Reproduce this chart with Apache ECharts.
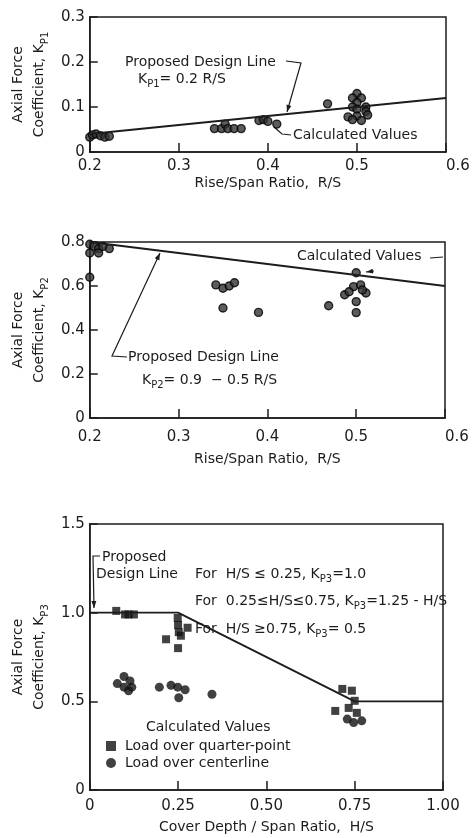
<!DOCTYPE html>
<html>
<head>
<meta charset="utf-8">
<script src="https://cdn.jsdelivr.net/npm/echarts@6/dist/echarts.min.js"></script>
<style>
html, body { margin: 0; padding: 0; background: #fff; }
#chart { width: 476px; height: 838px; }
</style>
</head>
<body>
<div id="chart"></div>
<script>
// panel 1 - K_P1 against rise/span
var rs1 = [0.2, 0.203, 0.207, 0.212, 0.217, 0.222, 0.34, 0.348, 0.352, 0.355, 0.362, 0.37,
           0.39, 0.395, 0.4, 0.41, 0.467, 0.5, 0.495, 0.505, 0.5, 0.51, 0.495, 0.5, 0.51,
           0.49, 0.5, 0.505, 0.495, 0.512];
var kp1 = [0.033, 0.038, 0.04, 0.036, 0.033, 0.035, 0.052, 0.052, 0.062, 0.052, 0.052, 0.052,
           0.07, 0.072, 0.068, 0.062, 0.107, 0.13, 0.12, 0.12, 0.11, 0.1, 0.1, 0.095, 0.09,
           0.078, 0.08, 0.07, 0.072, 0.082];
var line1X = [0.2, 0.6];
var line1Y = [0.04, 0.12];

// panel 2 - K_P2 against rise/span
var rs2 = [0.2, 0.205, 0.21, 0.2, 0.21, 0.215, 0.222, 0.2, 0.342, 0.35, 0.357, 0.363,
           0.35, 0.39, 0.469, 0.5, 0.487, 0.497, 0.505, 0.511, 0.5, 0.5, 0.492, 0.507];
var kp2 = [0.79, 0.78, 0.77, 0.75, 0.75, 0.78, 0.77, 0.64, 0.605, 0.59, 0.6, 0.615,
           0.5, 0.48, 0.51, 0.66, 0.56, 0.597, 0.605, 0.568, 0.529, 0.479, 0.574, 0.582];
var line2X = [0.2, 0.6];
var line2Y = [0.8, 0.6];

// panel 3 - K_P3 against cover depth/span
var hsQuarter = [0.075, 0.1, 0.11, 0.125, 0.216, 0.249, 0.25, 0.252, 0.258, 0.277, 0.25,
                 0.695, 0.715, 0.733, 0.742, 0.75, 0.756];
var kpQuarter = [1.01, 0.99, 0.99, 0.99, 0.85, 0.97, 0.93, 0.89, 0.87, 0.915, 0.8,
                 0.446, 0.57, 0.463, 0.56, 0.503, 0.435];
var hsCenter = [0.078, 0.097, 0.097, 0.11, 0.114, 0.119, 0.197, 0.23, 0.249, 0.252, 0.27,
                0.346, 0.729, 0.747, 0.77];
var kpCenter = [0.6, 0.64, 0.58, 0.56, 0.615, 0.58, 0.58, 0.59, 0.58, 0.52, 0.565,
                0.54, 0.4, 0.38, 0.39];
var line3X = [0, 0.25, 0.75, 1.0];
var line3Y = [1.0, 1.0, 0.5, 0.5];

var FONT = '"DejaVu Sans", sans-serif';
var INK = '#1c1c1c';

function zip(xs, ys) {
    return xs.map(function (x, i) { return [x, ys[i]]; });
}

var subRich = {
    s: { fontSize: 10, fontFamily: FONT, color: INK, verticalAlign: 'bottom', lineHeight: 10 }
};

function xAxisCfg(idx, min, max, interval, name, gap, margin, digits, alignMax) {
    return {
        gridIndex: idx, type: 'value', min: min, max: max, interval: interval,
        name: name, nameLocation: 'middle', nameGap: gap,
        nameTextStyle: { fontSize: 14, fontFamily: FONT, color: INK },
        axisLine: { lineStyle: { color: INK, width: 1.5 } },
        axisTick: { inside: true, length: 9, lineStyle: { color: INK, width: 1.5 } },
        splitLine: { show: false },
        axisLabel: {
            fontSize: 15, fontFamily: FONT, color: INK, margin: margin,
            alignMaxLabel: alignMax ? 'left' : null,
            formatter: function (v) { return v === 0 ? '0' : v.toFixed(digits); }
        }
    };
}

function yAxisCfg(idx, min, max, interval, sub, digits) {
    return {
        gridIndex: idx, type: 'value', min: min, max: max, interval: interval,
        name: 'Axial Force\nCoefficient, K{s|' + sub + '}',
        nameLocation: 'middle', nameRotate: 90, nameGap: 38,
        nameTextStyle: { fontSize: 14, fontFamily: FONT, color: INK, lineHeight: 21, rich: subRich },
        axisLine: { lineStyle: { color: INK, width: 1.5 } },
        axisTick: { inside: true, length: 8, lineStyle: { color: INK, width: 1.5 } },
        splitLine: { show: false },
        axisLabel: {
            fontSize: 15, fontFamily: FONT, color: INK, margin: 5,
            formatter: function (v) { return v === 0 ? '0' : v.toFixed(digits); }
        }
    };
}

function label(x, y, text) {
    return {
        type: 'text', x: x, y: y, silent: true,
        style: { text: text, font: '14px ' + FONT, fill: INK, lineHeight: 21,
                 verticalAlign: 'middle', rich: subRich }
    };
}

// leader line with an arrow head on its last point
function leader(pts, head) {
    var out = [{ type: 'polyline', silent: true, shape: { points: pts },
                 style: { stroke: INK, lineWidth: 1.2, fill: null } }];
    if (head) {
        var a = pts[pts.length - 2], b = pts[pts.length - 1];
        var dx = b[0] - a[0], dy = b[1] - a[1], len = Math.sqrt(dx * dx + dy * dy);
        var ux = dx / len, uy = dy / len;
        out.push({ type: 'polygon', silent: true, shape: { points: [
            b, [b[0] - ux * 7 - uy * 2.5, b[1] - uy * 7 + ux * 2.5],
            [b[0] - ux * 7 + uy * 2.5, b[1] - uy * 7 - ux * 2.5]] },
            style: { fill: INK } });
    }
    return out;
}

var dotStyle = { color: '#333', borderColor: '#000', borderWidth: 1.4 };

var graphics = [].concat(
    [label(125, 62, 'Proposed Design Line'),
     label(138, 79, 'K{s|P1}= 0.2 R/S'),
     label(293, 135, 'Calculated Values')],
    leader([[286, 61], [301, 63], [287, 112]], true),
    leader([[274, 127], [282, 134], [291, 135]], false),

    [label(297, 256, 'Calculated Values'),
     label(128, 357, 'Proposed Design Line'),
     label(142, 380, 'K{s|P2}= 0.9  \u2212 0.5 R/S')],
    leader([[430, 258], [443, 257]], false),
    leader([[374, 271], [366, 272]], true),
    leader([[127, 357], [112, 356], [160, 253]], true),

    [label(102, 557, 'Proposed'),
     label(96, 574, 'Design Line'),
     label(195, 574, 'For  H/S \u2264 0.25, K{s|P3}=1.0'),
     label(195, 601, 'For  0.25\u2264H/S\u22640.75, K{s|P3}=1.25 - H/S'),
     label(195, 629, 'For  H/S \u22650.75, K{s|P3}= 0.5'),
     label(146, 727, 'Calculated Values')],
    leader([[100, 556], [93, 556], [94, 608]], true)
);

var chart = echarts.init(document.getElementById('chart'));

var option = {
    backgroundColor: '#fff',
    animation: false,
    grid: [
        { left: 82, top: 17, width: 364, height: 135, show: true, borderColor: INK, borderWidth: 1.5 },
        { left: 82, top: 242, width: 363, height: 176, show: true, borderColor: INK, borderWidth: 1.5 },
        { left: 82, top: 524, width: 361, height: 266, show: true, borderColor: INK, borderWidth: 1.5 }
    ],
    xAxis: [
        xAxisCfg(0, 0.2, 0.6, 0.1, 'Rise/Span Ratio,  R/S', 24, 7, 1, true),
        xAxisCfg(1, 0.2, 0.6, 0.1, 'Rise/Span Ratio,  R/S', 34, 12, 1, true),
        xAxisCfg(2, 0, 1.0, 0.25, 'Cover Depth / Span Ratio,  H/S', 30, 9, 2, false)
    ],
    yAxis: [
        yAxisCfg(0, 0, 0.3, 0.1, 'P1', 1),
        yAxisCfg(1, 0, 0.8, 0.2, 'P2', 1),
        yAxisCfg(2, 0, 1.5, 0.5, 'P3', 1)
    ],
    legend: {
        data: [{ name: 'Load over quarter-point', icon: 'rect' },
               { name: 'Load over centerline', icon: 'circle' }],
        orient: 'vertical', left: 106, top: 739, padding: 0,
        itemWidth: 10, itemHeight: 10, itemGap: 3, selectedMode: false,
        textStyle: { fontSize: 14, fontFamily: FONT, color: INK, padding: [0, 0, 0, 4] }
    },
    series: [
        { type: 'line', xAxisIndex: 0, yAxisIndex: 0, data: zip(line1X, line1Y), symbol: 'none',
          lineStyle: { color: INK, width: 1.8 }, silent: true },
        { type: 'scatter', xAxisIndex: 0, yAxisIndex: 0, data: zip(rs1, kp1), symbolSize: 8,
          itemStyle: dotStyle },
        { type: 'line', xAxisIndex: 1, yAxisIndex: 1, data: zip(line2X, line2Y), symbol: 'none',
          lineStyle: { color: INK, width: 1.8 }, silent: true },
        { type: 'scatter', xAxisIndex: 1, yAxisIndex: 1, data: zip(rs2, kp2), symbolSize: 8,
          itemStyle: dotStyle },
        { type: 'line', xAxisIndex: 2, yAxisIndex: 2, data: zip(line3X, line3Y), symbol: 'none',
          lineStyle: { color: INK, width: 1.8 }, silent: true },
        { name: 'Load over quarter-point', type: 'scatter', xAxisIndex: 2, yAxisIndex: 2,
          data: zip(hsQuarter, kpQuarter), symbol: 'rect', symbolSize: 8,
          itemStyle: { color: '#111' } },
        { name: 'Load over centerline', type: 'scatter', xAxisIndex: 2, yAxisIndex: 2,
          data: zip(hsCenter, kpCenter), symbol: 'circle', symbolSize: 9,
          itemStyle: { color: '#111' } }
    ],
    graphic: graphics
};

chart.setOption(option);
</script>
</body>
</html>
